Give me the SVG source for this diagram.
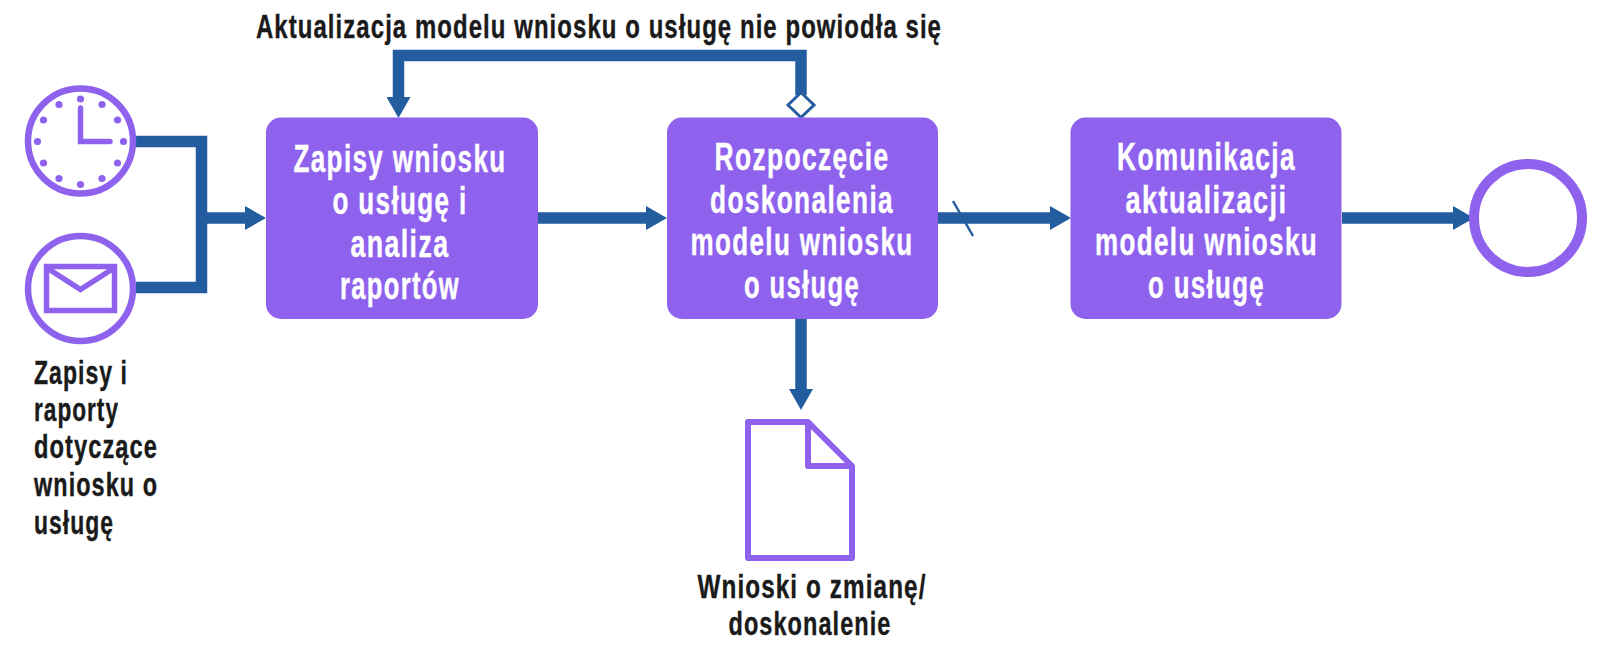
<svg xmlns="http://www.w3.org/2000/svg" width="1608" height="660" viewBox="0 0 1608 660">
<defs>
<marker id="arrow" markerUnits="userSpaceOnUse" markerWidth="22" markerHeight="24" refX="1" refY="12" orient="auto"><path d="M0,0 L21,12 L0,24 Z" fill="#245d9f"/></marker>
</defs>
<style>
.box{fill:#8f62ee}
.ring{fill:#fff;stroke:#8f62ee}
.conn{fill:none;stroke:#245d9f;stroke-width:11.5}
.t{font-family:"Liberation Sans",Arial,sans-serif;font-weight:700;font-size:33px;letter-spacing:1.5px;fill:#1a1a1a;stroke:#1a1a1a;stroke-width:.4px}
.w{fill:#fff;stroke:#fff;text-anchor:middle;font-size:38px;letter-spacing:2px}
.d{fill:#8f62ee}
</style>
<rect width="1608" height="660" fill="#fff"/>
<g id="connectors">
<path class="conn" d="M136,141.500 H201.500 V287.500 H136"/>
<path class="conn" d="M201.500,218 H246" marker-end="url(#arrow)"/>
<path class="conn" d="M538,218 H647" marker-end="url(#arrow)"/>
<path class="conn" d="M938,218 H1051" marker-end="url(#arrow)"/>
<path class="conn" d="M1342,218 H1454" marker-end="url(#arrow)"/>
<path class="conn" d="M801,319 V390" marker-end="url(#arrow)"/>
<path class="conn" d="M801,95 V55.500 H398.500 V98" marker-end="url(#arrow)"/>
<path d="M801,92.500 L814,105 L801,117.500 L788,105 Z" fill="#fff" stroke="#245d9f" stroke-width="3"/>
<path d="M953,201 L973,236" fill="none" stroke="#245d9f" stroke-width="2.500"/>
</g>
<g id="timer">
<circle class="ring" cx="80.500" cy="141" r="52.500" stroke-width="6.500"/>
<g class="d">
<circle cx="80.500" cy="99" r="3.600"/><circle cx="102" cy="104.500" r="3.600"/><circle cx="117.500" cy="120" r="3.600"/><circle cx="123.500" cy="141.500" r="3.600"/><circle cx="117.500" cy="163" r="3.600"/><circle cx="102" cy="178.500" r="3.600"/><circle cx="80.500" cy="184.500" r="3.600"/><circle cx="59" cy="178.500" r="3.600"/><circle cx="43.500" cy="163" r="3.600"/><circle cx="37.500" cy="141.500" r="3.600"/><circle cx="43.500" cy="120" r="3.600"/><circle cx="59" cy="104.500" r="3.600"/>
</g>
<path d="M80.500,108 V141.500 H110" fill="none" stroke="#8f62ee" stroke-width="5.500" stroke-linecap="round"/>
</g>
<g id="message">
<circle class="ring" cx="80.500" cy="288.500" r="52.500" stroke-width="6.500"/>
<rect x="46.500" y="266.500" width="68" height="44" fill="none" stroke="#8f62ee" stroke-width="5.500"/>
<path d="M47,268 L80.500,289.500 L114,268" fill="none" stroke="#8f62ee" stroke-width="5.500"/>
<g class="t"><text x="34" y="384" textLength="94" lengthAdjust="spacingAndGlyphs">Zapisy i</text><text x="34" y="421" textLength="85" lengthAdjust="spacingAndGlyphs">raporty</text><text x="34" y="458" textLength="124" lengthAdjust="spacingAndGlyphs">dotyczące</text><text x="34" y="496" textLength="124" lengthAdjust="spacingAndGlyphs">wniosku o</text><text x="34" y="534" textLength="80" lengthAdjust="spacingAndGlyphs">usługę</text></g>
</g>
<g id="box1">
<rect class="box" x="266" y="117.500" width="272" height="201.500" rx="15"/>
<g class="t w"><text x="400" y="172" textLength="213" lengthAdjust="spacingAndGlyphs">Zapisy wniosku</text><text x="400" y="214" textLength="135" lengthAdjust="spacingAndGlyphs">o usługę i</text><text x="400" y="257" textLength="99" lengthAdjust="spacingAndGlyphs">analiza</text><text x="400" y="299" textLength="120" lengthAdjust="spacingAndGlyphs">raportów</text></g>
</g>
<g id="box2">
<rect class="box" x="667" y="117.500" width="271" height="201.500" rx="15"/>
<g class="t w"><text x="802" y="170" textLength="175" lengthAdjust="spacingAndGlyphs">Rozpoczęcie</text><text x="802" y="213" textLength="184" lengthAdjust="spacingAndGlyphs">doskonalenia</text><text x="802" y="255" textLength="223" lengthAdjust="spacingAndGlyphs">modelu wniosku</text><text x="802" y="298" textLength="116" lengthAdjust="spacingAndGlyphs">o usługę</text></g>
</g>
<g id="box3">
<rect class="box" x="1070.500" y="117.500" width="271" height="201.500" rx="15"/>
<g class="t w"><text x="1206.500" y="170" textLength="179" lengthAdjust="spacingAndGlyphs">Komunikacja</text><text x="1206.500" y="213" textLength="162" lengthAdjust="spacingAndGlyphs">aktualizacji</text><text x="1206.500" y="255" textLength="223" lengthAdjust="spacingAndGlyphs">modelu wniosku</text><text x="1206.500" y="298" textLength="117" lengthAdjust="spacingAndGlyphs">o usługę</text></g>
</g>
<g id="end"><circle class="ring" cx="1528" cy="218" r="54" stroke-width="10"/></g>
<g id="document">
<path d="M748,422 H808 L852,466 V558 H748 Z M808,422 V466 H852" fill="#fff" stroke="#8f62ee" stroke-width="6" stroke-linejoin="round"/>
<g class="t"><text x="812" y="598" text-anchor="middle" textLength="229" lengthAdjust="spacingAndGlyphs">Wnioski o zmianę/</text><text x="810" y="635" text-anchor="middle" textLength="163" lengthAdjust="spacingAndGlyphs">doskonalenie</text></g>
</g>
<g id="retry-label"><text class="t" x="256" y="38" textLength="686" lengthAdjust="spacingAndGlyphs">Aktualizacja modelu wniosku o usługę nie powiodła się</text></g>
</svg>
